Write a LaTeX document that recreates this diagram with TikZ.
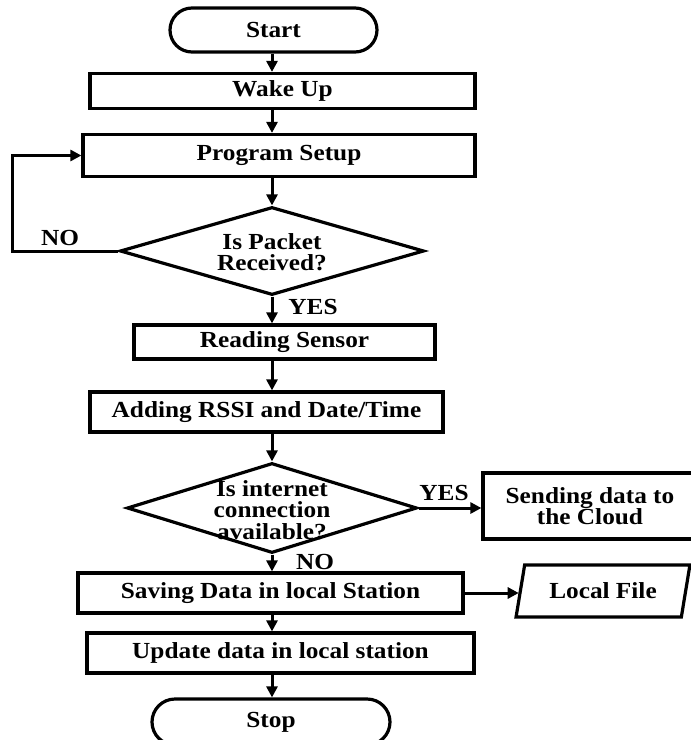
\documentclass[tikz,border=0pt]{standalone}
\usepackage{fontspec}
\setmainfont{Liberation Serif}[FakeStretch=1.1]
\usetikzlibrary{arrows.meta,shapes.geometric}
\begin{document}
\begin{tikzpicture}[x=1pt,y=-1pt,
  font=\fontsize{23}{21.5}\selectfont\bfseries,
  box/.style={draw, line width=3.2pt, rectangle, inner sep=0pt, align=center},
  term/.style={box, rounded corners=22pt},
  dia/.style={draw, diamond, line width=3.2pt, inner sep=0pt},
  flow/.style={line width=3pt, -{Triangle[length=11pt,width=11pt]}},
  lbl/.style={inner sep=0pt, align=center}]
\useasboundingbox (0,0) rectangle (691,740);
\fill[white] (0,0) rectangle (691,740);
\clip (0,0) rectangle (691,740);
\coordinate (sp) at (272,0);
\coordinate (loopx) at (12,251);

\node[term, minimum width=207pt, minimum height=44pt] (start) at (273.5,30) {Start};
\node[box, minimum width=385pt, minimum height=35pt] (wake) at (282.5,91) {Wake Up};
\node[box, minimum width=392pt, minimum height=42pt] (prog) at (279,155.5) {Program Setup};
\node[dia, minimum width=304pt, minimum height=88pt] (d1) at (272,251) {};
\node[lbl] (d1t) at (272,252) {Is Packet\\Received?};
\node[lbl] (no1) at (60,238) {NO};
\node[lbl] (yes1) at (313,307) {YES};
\node[box, minimum width=301pt, minimum height=34pt] (read) at (284.5,342) {Reading Sensor};
\node[box, minimum width=353pt, minimum height=40pt] (add) at (266.5,412) {Adding RSSI and Date/Time};
\node[dia, minimum width=290pt, minimum height=90pt] (d2) at (272,508) {};
\node[lbl] (d2t) at (272,510) {Is internet\\connection\\available?};
\node[lbl] (yes2) at (444,493) {YES};
\node[box, minimum width=214pt, minimum height=66pt] (send) at (590,506) {Sending data to\\the Cloud};
\node[lbl] (no2) at (315,562) {NO};
\node[box, minimum width=385pt, minimum height=40pt] (save) at (270.5,593) {Saving Data in local Station};
\node[draw, line width=3.2pt, trapezium, trapezium left angle=70, trapezium right angle=110,
      trapezium stretches=true, minimum width=174pt, minimum height=52pt, inner sep=0pt]
      (lfile) at (603,591) {Local File};
\node[box, minimum width=387pt, minimum height=40pt] (upd) at (280.5,653) {Update data in local station};
\node[term, minimum width=238pt, minimum height=46pt, rounded corners=23pt] (stop) at (271,722) {Stop};

\draw[flow] (start.south -| sp) -- (wake.north -| sp);
\draw[flow] (wake.south -| sp) -- (prog.north -| sp);
\draw[flow] (prog.south -| sp) -- (d1.north);
\draw[flow] (d1.south) -- (read.north -| sp);
\draw[flow] (read.south -| sp) -- (add.north -| sp);
\draw[flow] (add.south -| sp) -- (d2.north);
\draw[flow] (d2.south) -- (save.north -| sp);
\draw[flow] (save.south -| sp) -- (upd.north -| sp);
\draw[flow] (upd.south -| sp) -- (stop.north -| sp);
\draw[flow] (d1.west) -- (loopx) |- (prog.west);
\draw[flow] (d2.east) -- (d2.east -| send.west);
\draw[flow] (save.east) -- (save.east -| lfile.west);
\end{tikzpicture}
\end{document}
